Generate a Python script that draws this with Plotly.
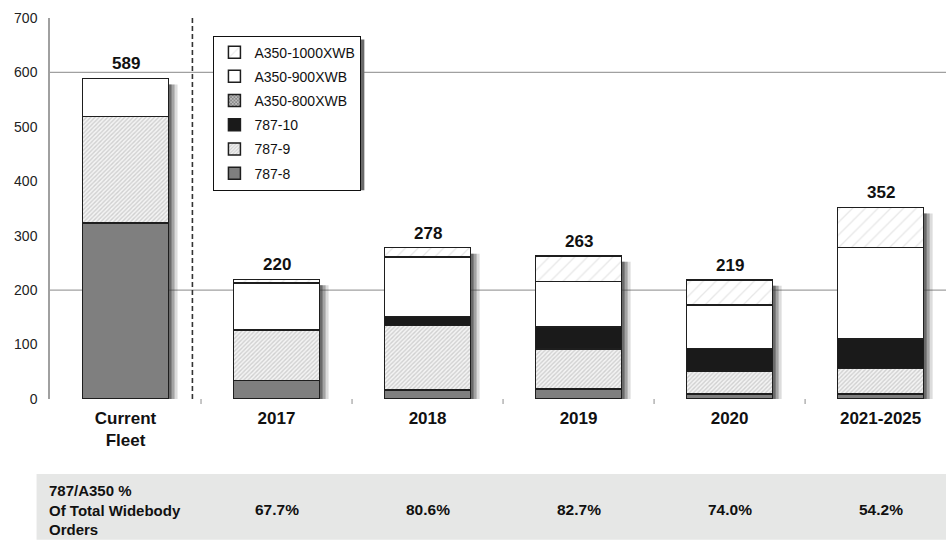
import plotly.graph_objects as go

# Deliveries by type (aircraft count)
categories = ["Current<br>Fleet", "2017", "2018", "2019", "2020", "2021-2025"]
b787_8 = [323, 34, 17, 18, 9, 9]
b787_9 = [196, 93, 118, 74, 42, 47]
b787_10 = [0, 0, 17, 40, 42, 54]
a350_800 = [0, 0, 0, 0, 0, 0]
a350_900 = [70, 86, 109, 84, 80, 168]
a350_1000 = [0, 7, 17, 47, 46, 74]

# 787/A350 share of total widebody orders (per delivery period, not fleet)
share_labels = ["67.7%", "80.6%", "82.7%", "74.0%", "54.2%"]

y_ticks = [0, 100, 200, 300, 400, 500, 600, 700]
grid_values = [200, 600]

FONT = "Liberation Sans, Arial, sans-serif"
OUTLINE = "#1e1e1e"
BAR_W = 0.57
PX_X = 151.1   # pixels per category
PX_Y = 0.545   # pixels per unit
PLOT_W = 896.5
PLOT_H = 381.5

x_idx = list(range(len(categories)))
totals = [sum(v) for v in zip(b787_8, b787_9, b787_10, a350_800, a350_900, a350_1000)]


def nz(vals):
    return [v if v else None for v in vals]


series = [
    ("787-8", b787_8, dict(color="#7f7f7f")),
    ("787-9", b787_9, dict(color="white", pattern=dict(shape="/", size=3, solidity=0.45,
                                                      fgcolor="#acacac", bgcolor="#f4f4f4"))),
    ("787-10", b787_10, dict(color="#1a1a1a")),
    ("A350-800XWB", a350_800, dict(color="white", pattern=dict(shape="x", size=3, solidity=0.5,
                                                              fgcolor="#444444", bgcolor="#bbbbbb"))),
    ("A350-900XWB", a350_900, dict(color="white")),
    ("A350-1000XWB", a350_1000, dict(color="white", pattern=dict(shape="/", size=9, solidity=0.15,
                                                                fgcolor="#d0d0d0", bgcolor="white"))),
]

fig = go.Figure()
n = len(series)
for k, (name, vals, marker) in enumerate(series):
    marker = dict(marker)
    marker["line"] = dict(color=OUTLINE, width=1.5)
    fig.add_trace(go.Bar(
        x=x_idx, y=nz(vals), name=name, width=BAR_W, marker=marker,
        legendgroup=name, legendrank=n - k, hoverinfo="skip",
    ))

shapes = []
# horizontal reference lines
for g in grid_values:
    shapes.append(dict(type="line", xref="paper", yref="y", x0=0, x1=1, y0=g, y1=g,
                       line=dict(color="#a0a0a0", width=1.2), layer="below"))

# soft drop shadow to the right of each stacked bar
for i, tot in enumerate(totals):
    for dx, op in [(3, 0.55), (6, 0.35), (9, 0.18)]:
        shapes.append(dict(type="rect", xref="x", yref="y",
                           x0=i - BAR_W / 2 + dx / PX_X, x1=i + BAR_W / 2 + dx / PX_X,
                           y0=0, y1=tot - 6 / PX_Y,
                           fillcolor="#3c3c3c", opacity=op, line=dict(width=0), layer="below"))

# short category separators under the axis
for i in range(len(categories) - 1):
    shapes.append(dict(type="line", xref="x", yref="paper", x0=i + 0.5, x1=i + 0.5,
                       y0=0, y1=-0.013, line=dict(color="#a0a0a0", width=1.2)))

# dashed divider between current fleet and future deliveries
shapes.append(dict(type="line", xref="x", yref="paper", x0=0.443, x1=0.443, y0=0, y1=1.005,
                   line=dict(color="#333333", width=1.6, dash="5px,3px")))

# legend shadow
LEG_X, LEG_Y = 0.1824, 0.954
LEG_W, LEG_H = 147 / PLOT_W, 151 / PLOT_H
shapes.append(dict(type="rect", xref="paper", yref="paper",
                   x0=LEG_X + 4 / PLOT_W, x1=LEG_X + 4 / PLOT_W + LEG_W,
                   y0=LEG_Y - 4 / PLOT_H - LEG_H, y1=LEG_Y - 4 / PLOT_H,
                   fillcolor="#6a6a6a", line=dict(width=0), layer="above"))

# grey band holding the share row
shapes.append(dict(type="rect", xref="paper", yref="paper", x0=-0.015, x1=1.0,
                   y0=-0.3696, y1=-0.1966, fillcolor="#e6e7e6", line=dict(width=0)))

annotations = []
for i, tot in enumerate(totals):
    annotations.append(dict(x=i, y=tot, xref="x", yref="y", text=f"<b>{tot}</b>",
                            showarrow=False, yanchor="bottom", yshift=3,
                            font=dict(family=FONT, size=17, color="#111111")))

annotations.append(dict(x=-0.003, y=-0.291, xref="paper", yref="paper", xanchor="left",
                        yanchor="middle", align="left", showarrow=False,
                        text="<b>787/A350 %<br>Of Total Widebody<br>Orders</b>",
                        font=dict(family=FONT, size=15, color="#111111")))
for i, s in enumerate(share_labels, start=1):
    annotations.append(dict(x=i, y=-0.291, xref="x", yref="paper", xanchor="center",
                            yanchor="middle", showarrow=False, text=f"<b>{s}</b>",
                            font=dict(family=FONT, size=15.5, color="#111111")))

fig.update_layout(
    width=946, height=540,
    margin=dict(l=49.5, r=0, t=17.5, b=141),
    paper_bgcolor="white", plot_bgcolor="white",
    barmode="stack",
    font=dict(family=FONT, color="#222222"),
    shapes=shapes, annotations=annotations,
    showlegend=True,
    legend=dict(x=LEG_X, y=LEG_Y, xanchor="left", yanchor="top",
                bgcolor="white", bordercolor="#111111", borderwidth=1,
                font=dict(family=FONT, size=14, color="#111111"),
                traceorder="grouped", tracegroupgap=3,
                itemwidth=30),
    xaxis=dict(range=[-0.5, 5.433], tickvals=x_idx,
               ticktext=[f"<b>{c}</b>" for c in categories],
               tickfont=dict(family=FONT, size=17, color="#111111"),
               ticklabelstandoff=7,
               showgrid=False, showline=False, zeroline=False, ticks=""),
    yaxis=dict(range=[0, 700], tickvals=y_ticks, showgrid=False, zeroline=False,
               showline=True, linecolor="#a0a0a0", linewidth=1.5, ticks="",
               ticklabelstandoff=8,
               tickfont=dict(family=FONT, size=14, color="#222222")),
)

fig.write_html("out.html")
